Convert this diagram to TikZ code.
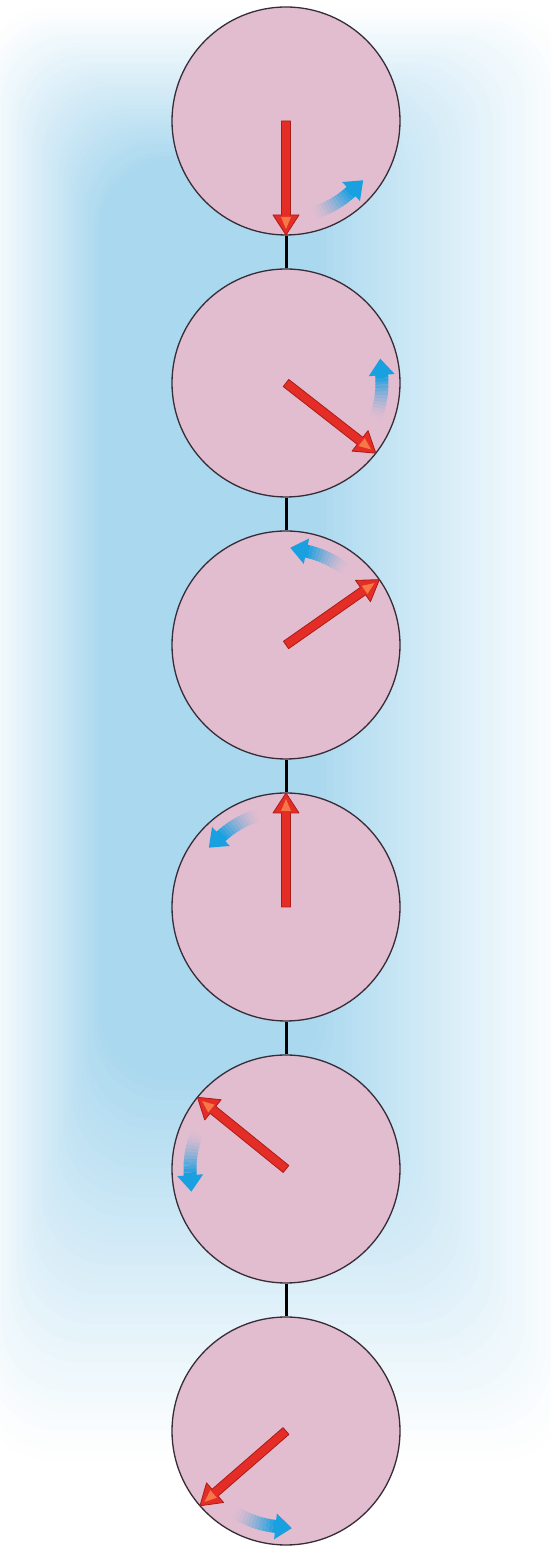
\documentclass[tikz,border=0pt]{standalone}
\usepackage{tikz}
\usetikzlibrary{calc}
\definecolor{glowblue}{RGB}{170,216,239}
\definecolor{diskpink}{RGB}{226,189,208}
\definecolor{diskline}{RGB}{55,45,55}
\definecolor{shaftred}{RGB}{228,45,38}
\definecolor{shaftdark}{RGB}{170,28,24}
\definecolor{headorange}{RGB}{246,120,70}
\definecolor{flowblue}{RGB}{24,160,225}
\begin{document}
\begin{tikzpicture}[x=1pt,y=1pt,
    disk/.style={circle, draw=diskline, fill=diskpink, line width=1.3pt, minimum size=228pt, inner sep=0pt},
    link/.style={line width=3pt, black},
    spin/.style={fill=shaftred, draw=shaftdark, line width=0.8pt, line join=round},
    flow/.style={line width=13pt, flowblue}]
    \def\rad{114}
    \def\gap{262}
    \useasboundingbox (0,0) rectangle (550,1548);
    \fill[white] (0,0) rectangle (550,1548);
    % background glow
    \foreach \k in {0,...,39} {
      \pgfmathtruncatemacro\mix{100*((\k+1)/40)^1.1}
      \fill[glowblue!\mix!white, rounded corners=70pt]
        (-20+\k*3.08, 1540-\k*3.9) rectangle (570-\k*6.41, 88+\k*9.74);
    }
    % the disks
    \foreach \i in {1,...,6} {
      \node[disk] (d\i) at (286, 1427-\gap*\i+\gap) {};
    }
    % links between the disks
    \foreach \i/\j in {1/2,2/3,3/4,4/5,5/6} {
      \draw[link] (d\i.south) -- (d\j.north);
    }
    % red arrows and blue turning arrows
    \foreach \i/\ang in {1/-90,2/-38,3/35,4/90,5/141,6/221} {
      \begin{scope}[shift={(d\i.center)}, rotate=\ang]
        \filldraw[spin] (0,-4.5) -- (94,-4.5) -- (94,-13) -- (\rad,0) -- (94,13) -- (94,4.5) -- (0,4.5) -- cycle;
        \fill[headorange] (96,-5) -- (108,0) -- (96,5) -- cycle;
      \end{scope}
      \begin{scope}[shift={(d\i.center)}]
        \foreach \s in {0,...,12} {
          \pgfmathsetmacro\op{((\s+1)/13)^1.6}
          \draw[flow, draw opacity=\op] (\ang+17+2*\s:96) arc[start angle=\ang+17+2*\s, delta angle=2.05, radius=96];
        }
        \fill[flowblue, rotate=\ang+43] (83,-0.5) -- (109,-0.5) -- (96,16) -- cycle;
      \end{scope}
    }
\end{tikzpicture}
\end{document}
